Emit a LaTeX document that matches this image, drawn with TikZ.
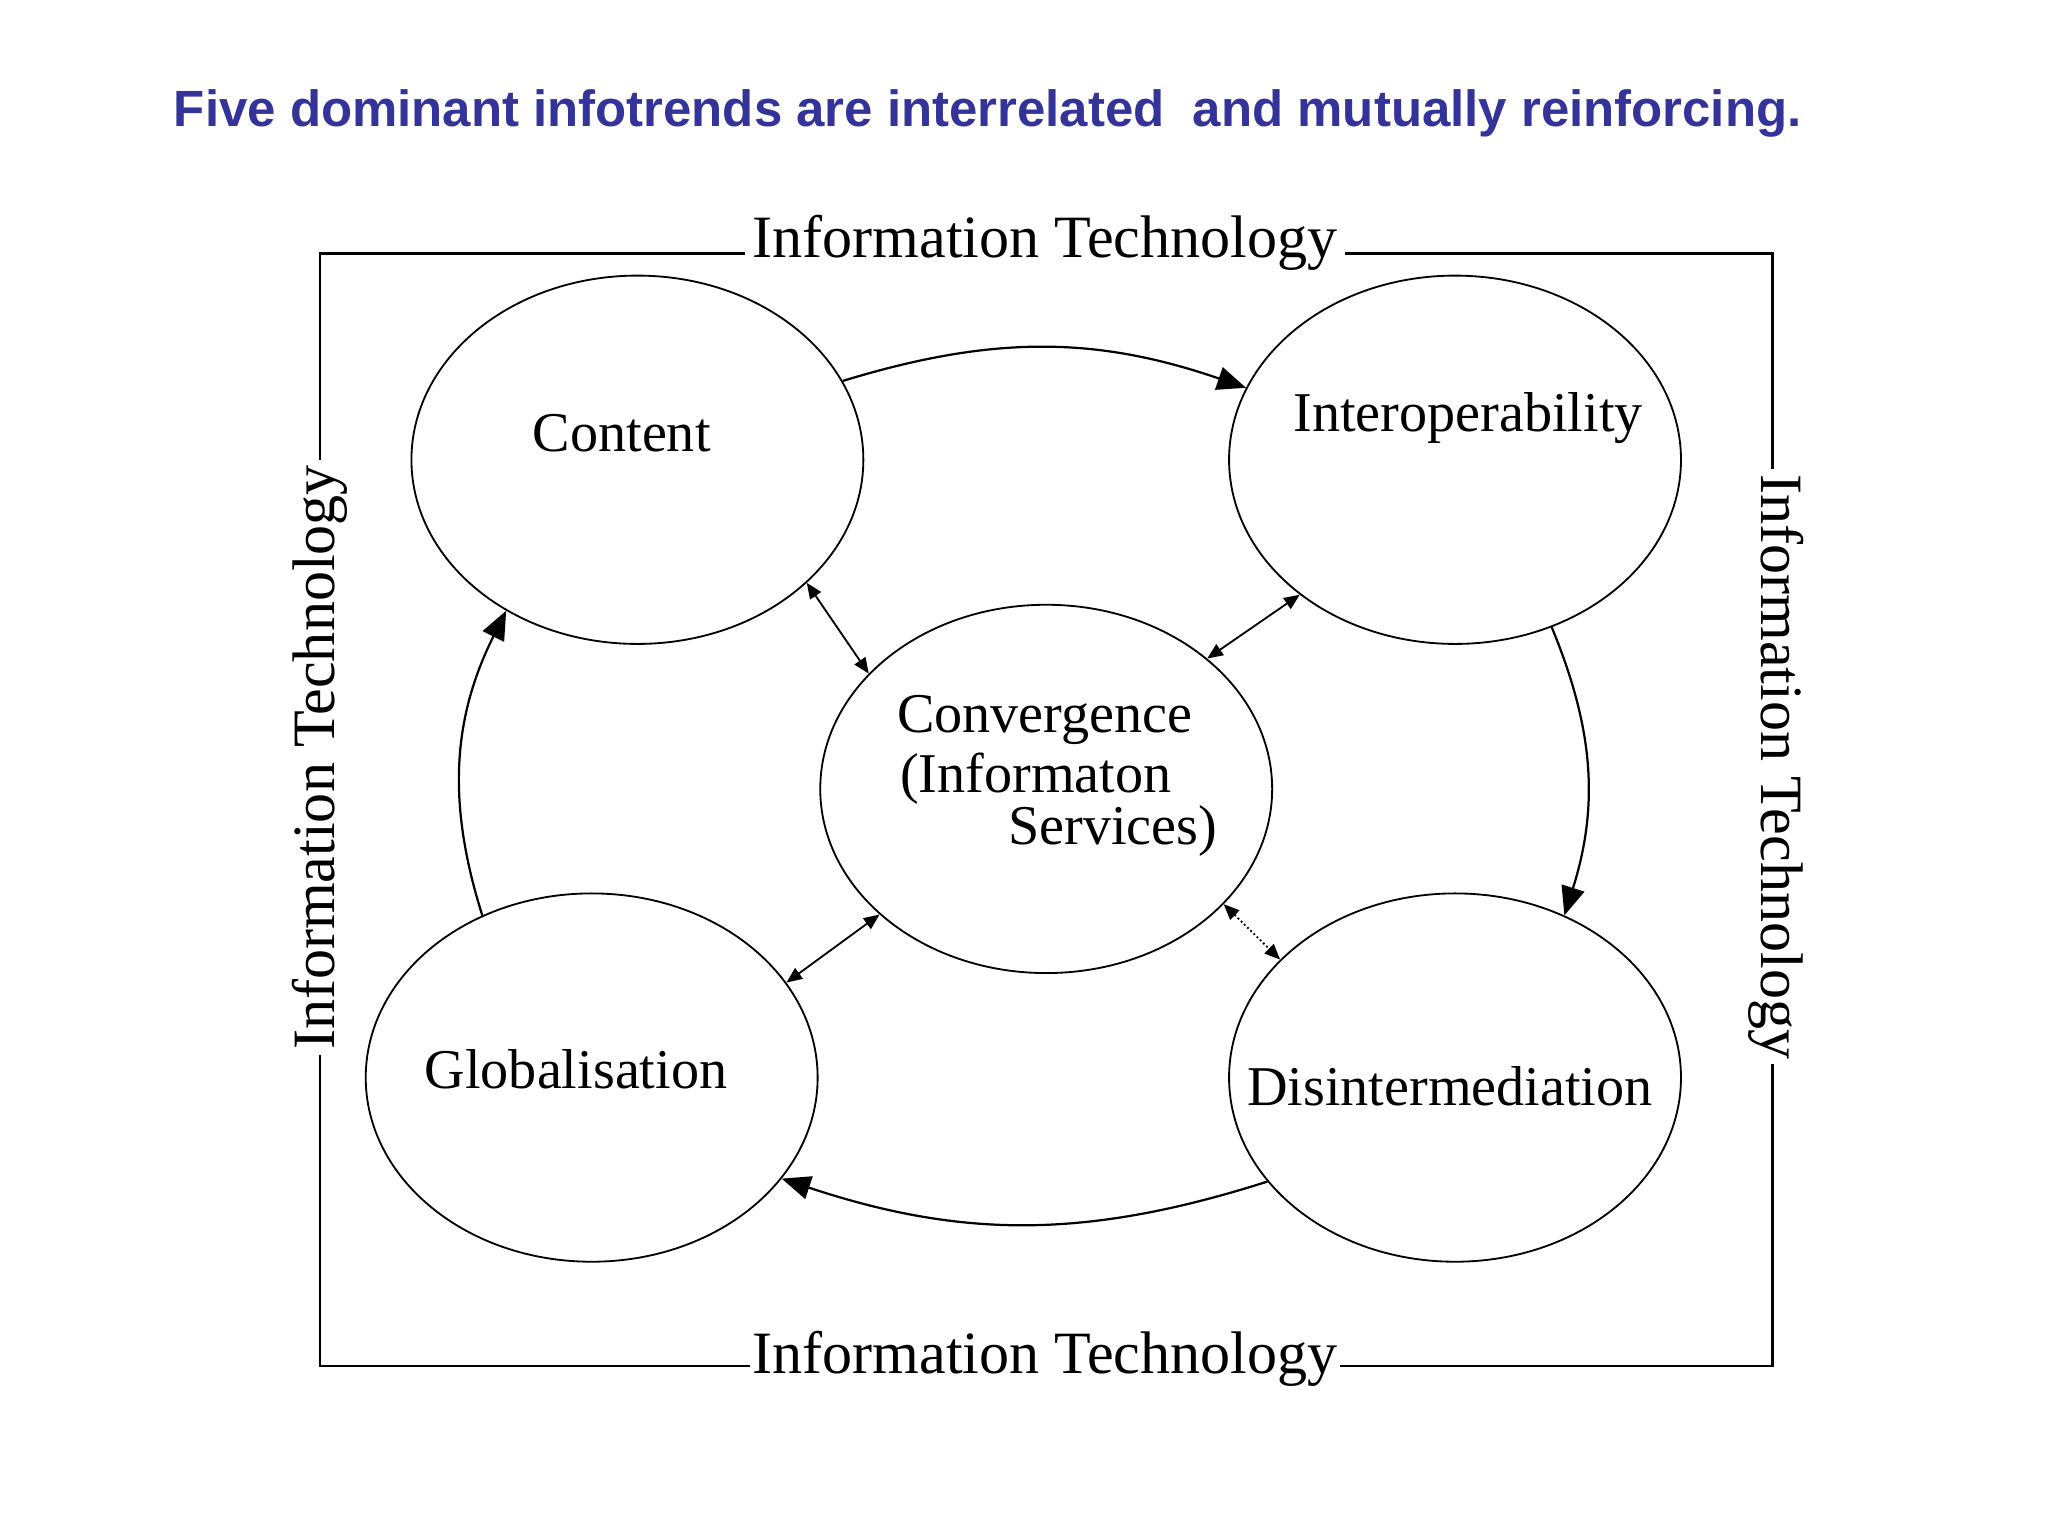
\documentclass[tikz,border=0pt]{standalone}
\usepackage{fontspec}
\setmainfont{Liberation Serif}
\newfontfamily\titlefont{Liberation Sans}
\usetikzlibrary{arrows.meta,shapes.geometric}
\definecolor{titleblue}{RGB}{51,51,153}
\begin{document}
\begin{tikzpicture}[x=1pt,y=-1pt,
  bub/.style={draw,ellipse,line width=1.4pt,minimum width=346pt,minimum height=282pt,inner sep=0pt},
  lbl/.style={font=\fontsize{43}{50}\selectfont,inner sep=0pt},
  itlbl/.style={font=\fontsize{46}{52}\selectfont,fill=white},
  big/.style={line width=1.7pt,-{Triangle[length=22pt,width=18pt]}},
  small/.style={line width=1.4pt,{Triangle[length=12pt,width=10pt]}-{Triangle[length=12pt,width=10pt]}}]
\useasboundingbox (0,0) rectangle (1568,1176);
\node[anchor=west,text=titleblue,font=\titlefont\bfseries\fontsize{39}{44}\selectfont,inner sep=0pt] (title) at (133,87) {Five dominant infotrends are interrelated\ \ and mutually reinforcing.};
% frame
\draw[line width=1.8pt] (245,194) rectangle (1357,1046);
\node[itlbl,inner xsep=6pt,inner ysep=4pt] (itt) at (800,186) {Information Technology};
\node[itlbl,inner xsep=2pt,inner ysep=4pt] (itb) at (800,1040) {Information Technology};
\node[itlbl,rotate=90,inner xsep=4pt,inner ysep=4pt] (itl) at (245,580) {Information Technology};
\node[itlbl,rotate=-90,inner xsep=4pt,inner ysep=4pt] (itr) at (1360,587) {Information Technology};
% bubbles
\node[bub] (content) at (488,352) {};
\node[bub] (interop) at (1114,352) {};
\node[bub] (conv) at (801,604) {};
\node[bub] (glob) at (453,825) {};
\node[bub] (dis) at (1114,825) {};
\node[lbl] (tcontent) at (476,332) {Content};
\node[lbl] (tinterop) at (1124,320) {Interoperability};
\node[lbl] (tglob) at (441,819) {Globalisation};
\node[lbl] (tdis) at (1110,832) {Disintermediation};
\node[lbl] (tconv1) at (800,551) {Convergence};
\node[lbl] (tconv2) at (793,596) {(Informaton};
\node[lbl] (tconv3) at (852,636) {Services)};
% main cycle
\draw[big] (content.21) to[bend left=18] (interop.161);
\draw[big] (interop.-60) to[bend left=20] (dis.56);
\draw[big] (dis.209) to[bend left=18] (glob.-28);
\draw[big] (glob.124) to[bend left=22] (content.229);
% double arrows
\draw[small] (conv.147) -- (content.-36);
\draw[small] (conv.39) -- (interop.221);
\draw[small] (conv.217) -- (glob.26);
\draw[small,dotted] (conv.-33) -- (dis.146);
\end{tikzpicture}
\end{document}
